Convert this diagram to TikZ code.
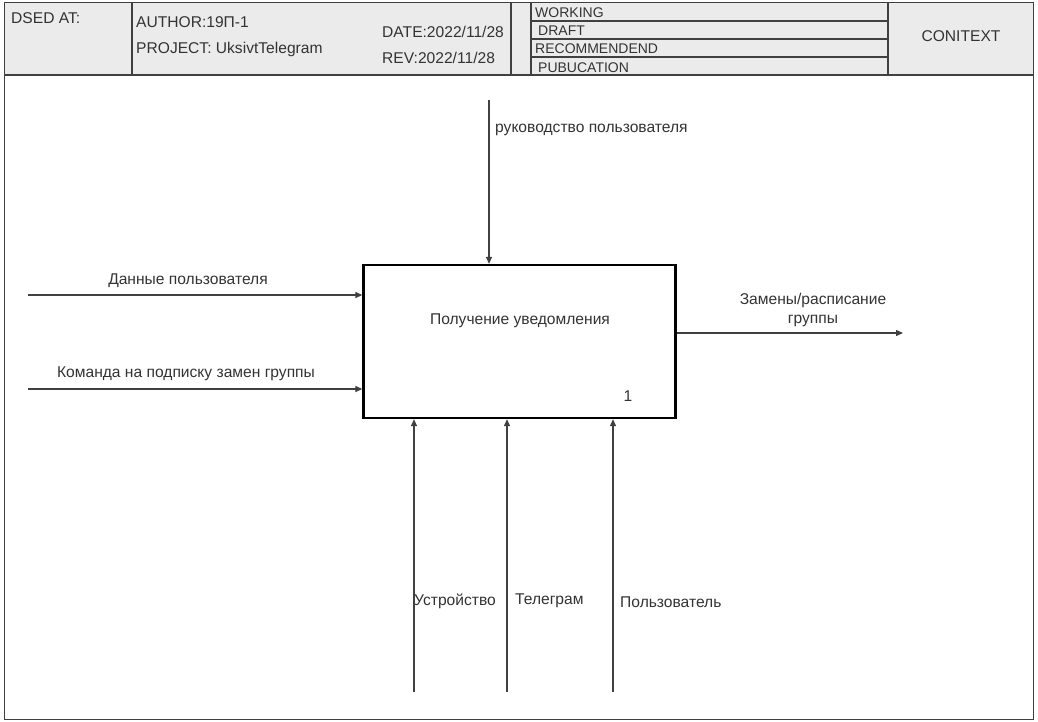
\documentclass[tikz,border=0pt]{standalone}
\usepackage{fontspec}
\setmainfont{Liberation Sans}
\usetikzlibrary{arrows.meta,positioning}
\definecolor{framegray}{HTML}{404040}
\definecolor{headgray}{HTML}{EBEBEB}
\definecolor{textgray}{HTML}{333333}
\tikzset{
  frameline/.style={draw=framegray, line width=1.9pt},
  txt/.style={font=\fontsize{15.6}{19}\selectfont, text=textgray, inner sep=0pt},
  smalltxt/.style={font=\fontsize{14}{15}\selectfont, text=textgray, inner sep=0pt},
  arc/.style={draw=framegray, line width=1.2pt, -{Triangle[length=7pt,width=6pt]}},
  funcbox/.style={draw=black, line width=2.3pt, minimum width=312pt, minimum height=153pt, inner sep=0pt}
}
\begin{document}
\begin{tikzpicture}[x=1pt, y=-1pt]
    \useasboundingbox (0,0) rectangle (1038,721);
    % Draw the frame and the header.
    \fill[headgray] (4.5,2.5) rectangle (1033.5,75);
    \draw[frameline] (4.5,2.5) rectangle (1033.5,719.5);
    \draw[frameline] (4.5,75) -- (1033.5,75);
    \draw[frameline] (132,2.5) -- (132,75);
    \draw[frameline] (511,2.5) -- (511,75);
    \draw[frameline] (531,2.5) -- (531,75);
    \draw[frameline] (888,2.5) -- (888,75);
    \draw[frameline] (531,21) -- (888,21);
    \draw[frameline] (531,39) -- (888,39);
    \draw[frameline] (531,57) -- (888,57);
    % Header texts.
    \node[txt, anchor=west] (used) at (11,18) {DSED AT:};
    \node[txt, anchor=west] (author) at (136,22) {AUTHOR:19П-1};
    \node[txt, anchor=west] (project) at (136,49) {PROJECT: UksivtTelegram};
    \node[txt, anchor=west] (date) at (382,32) {DATE:2022/11/28};
    \node[txt, anchor=west] (rev) at (382,58) {REV:2022/11/28};
    \node[smalltxt, anchor=west] (working) at (535,13) {WORKING};
    \node[smalltxt, anchor=west] (draft) at (538,31) {DRAFT};
    \node[smalltxt, anchor=west] (recommended) at (535,49) {RECOMMENDEND};
    \node[smalltxt, anchor=west] (publication) at (538,68) {PUBUCATION};
    \node[txt] (context) at (961,36) {CONITEXT};
    % Draw the function box.
    \node[funcbox] (func) at (519.5,341.5) {};
    \node[txt] (functext) at (520,321) {Получение уведомления};
    \node[txt] (funcnum) at (628,396) {1};
    % Free ends of the arrows.
    \coordinate (ctrl) at (489,100);
    \coordinate (inA) at (28,295);
    \coordinate (inB) at (28,389);
    \coordinate (outA) at (903,333);
    \coordinate (mechA) at (414,692);
    \coordinate (mechB) at (507,692);
    \coordinate (mechC) at (613,692);
    % Draw the control, the inputs and the output.
    \draw[arc] (ctrl) -- (ctrl |- func.north);
    \draw[arc] (inA) -- (inA -| func.west);
    \draw[arc] (inB) -- (inB -| func.west);
    \draw[arc] (outA -| func.east) -- (outA);
    % Draw the mechanisms.
    \draw[arc] (mechA) -- (mechA |- func.south);
    \draw[arc] (mechB) -- (mechB |- func.south);
    \draw[arc] (mechC) -- (mechC |- func.south);
    % Arrow labels.
    \node[txt, anchor=west] (ctrltext) at (495,130) {руководство пользователя};
    \node[txt] (inAtext) at (188,281) {Данные пользователя};
    \node[txt] (inBtext) at (186,374) {Команда на подписку замен группы};
    \node[txt, align=center] (outAtext) at (813,309.5) {Замены/расписание\\группы};
    \node[txt, anchor=west] (mechAtext) at (414,601) {Устройство};
    \node[txt, anchor=west] (mechBtext) at (515,601) {Телеграм};
    \node[txt, anchor=west] (mechCtext) at (620,602) {Пользователь};
\end{tikzpicture}
\end{document}
